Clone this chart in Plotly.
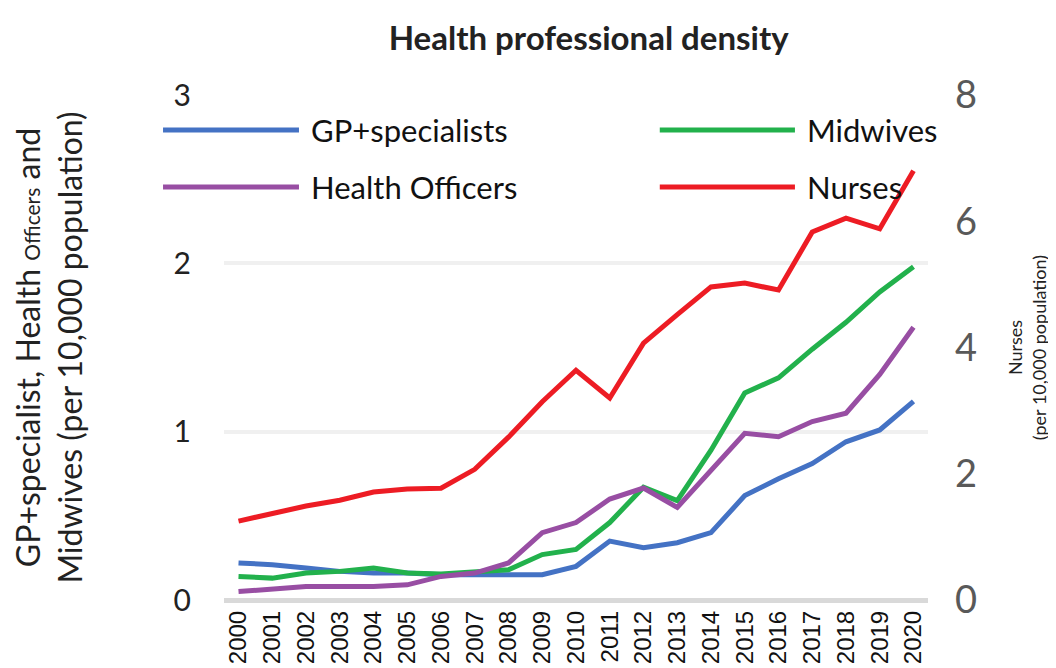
import plotly.graph_objects as go

years = list(range(2000, 2021))
gp_specialists = [0.22, 0.21, 0.19, 0.17, 0.16, 0.16, 0.15, 0.15, 0.15, 0.15, 0.20, 0.35, 0.31, 0.34, 0.40, 0.62, 0.72, 0.81, 0.94, 1.01, 1.18]
midwives = [0.14, 0.13, 0.16, 0.17, 0.19, 0.16, 0.155, 0.17, 0.18, 0.27, 0.30, 0.46, 0.67, 0.59, 0.89, 1.23, 1.32, 1.49, 1.65, 1.83, 1.98]
health_officers = [0.05, 0.065, 0.08, 0.08, 0.08, 0.09, 0.14, 0.16, 0.22, 0.40, 0.46, 0.60, 0.665, 0.55, 0.77, 0.99, 0.97, 1.06, 1.11, 1.34, 1.62]
nurses = [1.25, 1.38, 1.49, 1.58, 1.71, 1.76, 1.77, 2.07, 2.58, 3.14, 3.64, 3.20, 4.07, 4.52, 4.96, 5.02, 4.91, 5.83, 6.05, 5.88, 6.80]

left_ticks = [0, 1, 2, 3]
right_ticks = [0, 2, 4, 6, 8]

series = [
    ("GP+specialists", gp_specialists, "#4472C4", "y"),
    ("Midwives", midwives, "#22B14C", "y"),
    ("Health Officers", health_officers, "#984EA3", "y"),
    ("Nurses", nurses, "#ED1C24", "y2"),
]

FONT = "Lato, 'Open Sans', sans-serif"

fig = go.Figure()
for name, vals, color, ax in series:
    fig.add_trace(go.Scatter(
        x=years, y=vals, name=name, mode="lines", yaxis=ax,
        line=dict(color=color, width=5), showlegend=False,
    ))

# manual legend (long line samples like the original)
legend_pos = [(-0.0866, 0.1065, 0.1207, 0.9307),
              (0.619, 0.811, 0.825, 0.9307),
              (-0.0866, 0.1065, 0.1207, 0.8178),
              (0.619, 0.811, 0.825, 0.8178)]
for (name, vals, color, ax), (x0, x1, xt, yy) in zip(series, legend_pos):
    fig.add_shape(type="line", xref="paper", yref="paper", x0=x0, x1=x1, y0=yy, y1=yy,
                  line=dict(color=color, width=5))
    fig.add_annotation(xref="paper", yref="paper", x=xt, y=yy, text=name, showarrow=False,
                       xanchor="left", yanchor="middle", font=dict(family=FONT, size=31, color="#111111"))

fig.update_layout(
    width=1048, height=660,
    margin=dict(l=216, r=128, t=87, b=68),
    paper_bgcolor="white", plot_bgcolor="white",
    title=dict(text="<b>Health professional density</b>", x=0.518, xref="paper", xanchor="center",
               y=1 - 30 / 660, yanchor="middle", font=dict(family=FONT, size=33, color="#222222")),
    xaxis=dict(
        tickmode="array", tickvals=years, ticktext=[str(y) for y in years],
        tickangle=-90, tickfont=dict(family="'Liberation Sans', Arial, sans-serif", size=24, color="#111111"),
        range=[1999.57, 2020.43], showgrid=False, zeroline=False, showline=False,
        automargin=False, ticks="", ticklabelstandoff=5,
    ),
    yaxis=dict(
        range=[0, 3], tickvals=left_ticks, tickfont=dict(family=FONT, size=30, color="#222222"),
        showgrid=True, gridcolor="#F0F0F0", gridwidth=4, zeroline=True, zerolinecolor="#D9D9D9",
        zerolinewidth=5, showline=False, ticklabelstandoff=32, automargin=False,
        title=dict(text="GP+specialist, Health <span style='font-size:21px'>Officers</span> and<br>Midwives (per 10,000 population)",
                   font=dict(family=FONT, size=32, color="#222222"), standoff=95),
    ),
    yaxis2=dict(
        range=[0, 8], tickvals=right_ticks, overlaying="y", side="right",
        tickfont=dict(family=FONT, size=38, color="#595959"),
        showgrid=False, zeroline=False, showline=False, ticklabelstandoff=26, automargin=False,
        title=dict(text="Nurses<br>(per 10,000 population)", font=dict(family=FONT, size=18, color="#222222"),
                   standoff=33),
    ),
)

fig.write_html("out.html")
